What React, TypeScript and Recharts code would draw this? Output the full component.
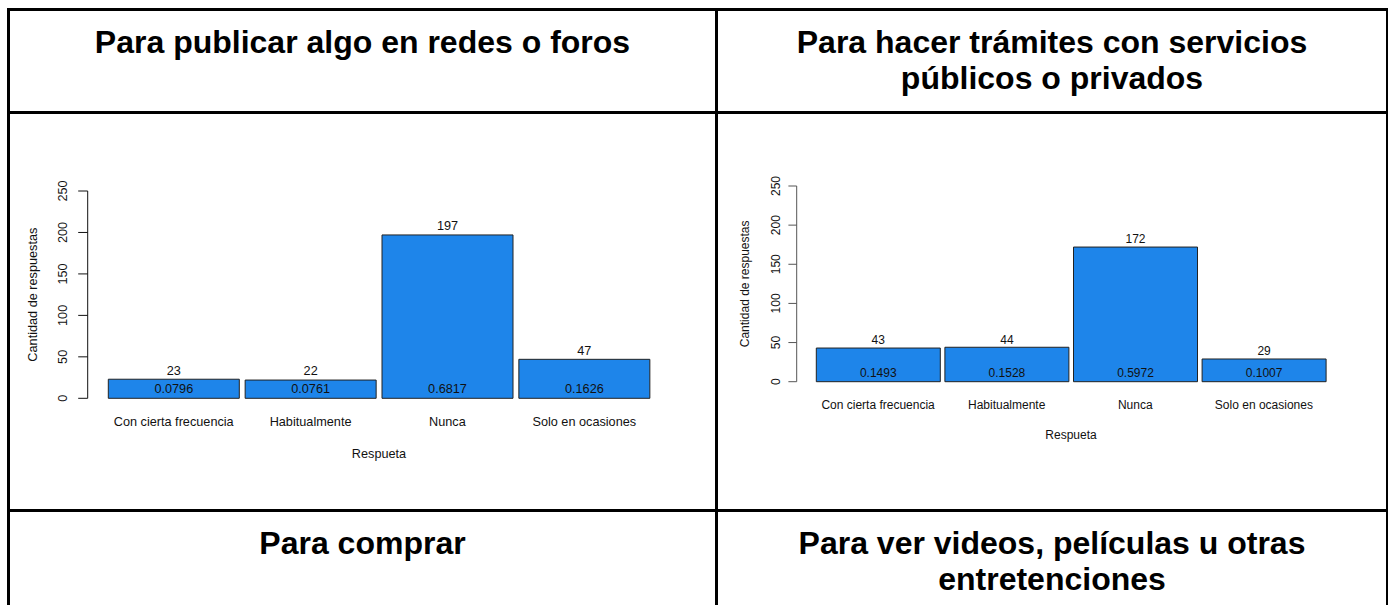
import React from 'react';
import { BarChart, Bar, XAxis, YAxis, LabelList } from 'recharts';

const categories = ['Con cierta frecuencia', 'Habitualmente', 'Nunca', 'Solo en ocasiones'];
const redesCounts = [23, 22, 197, 47];
const redesProps = [0.0796, 0.0761, 0.6817, 0.1626];
const tramitesCounts = [43, 44, 172, 29];
const tramitesProps = [0.1493, 0.1528, 0.5972, 0.1007];
const yTicks = [0, 50, 100, 150, 200, 250];

const FONT = '"Liberation Sans", Arial, Helvetica, sans-serif';
const BAR_FILL = '#1e85ea';
const INK = '#111';

type Geo = {
  left: number; top: number; width: number; height: number;
  axisX: number; plotTop: number; plotBottom: number;
  padLeft: number; marginRight: number; gapHalf: number;
  font: number; tickLen: number; tickLabelOff: number;
  yTitleX: number; catDy: number; titleDy: number;
  axisColor: string; countDy: number; propDy: number;
};

const geoRedes: Geo = {
  left: 10, top: 114, width: 705, height: 395,
  axisX: 77.7, plotTop: 77, plotBottom: 284.3,
  padLeft: 17.6, marginRight: 62.3, gapHalf: 3,
  font: 12.7, tickLen: 9.5, tickLabelOff: 24.7,
  yTitleX: 22.7, catDy: 23.7, titleDy: 56,
  axisColor: '#111', countDy: 8.7, propDy: 9.3,
};

const geoTramites: Geo = {
  left: 718, top: 114, width: 668, height: 395,
  axisX: 78.7, plotTop: 72, plotBottom: 267.7,
  padLeft: 17.1, marginRight: 57.8, gapHalf: 2.5,
  font: 12, tickLen: 8.3, tickLabelOff: 20.7,
  yTitleX: 27, catDy: 23.3, titleDy: 53.3,
  axisColor: '#555', countDy: 7.6, propDy: 9,
};

const boxOf = (p: any) => (p.viewBox && p.viewBox.width != null ? p.viewBox : p);

function CountChart({ g, counts, props }: { g: Geo; counts: number[]; props: number[] }) {
  const data = categories.map((cat, i) => ({ cat, n: counts[i], p: props[i] }));
  const txt = { fontFamily: FONT, fontSize: g.font, fill: INK };
  return (
    <div style={{ position: 'absolute', left: g.left, top: g.top }}>
      <BarChart
        width={g.width}
        height={g.height}
        data={data}
        margin={{ top: g.plotTop, right: g.marginRight, left: 0, bottom: 0 }}
        barCategoryGap={g.gapHalf}
      >
        <XAxis
          dataKey="cat"
          height={g.height - g.plotBottom}
          axisLine={false}
          tickLine={false}
          tickSize={0}
          tickMargin={0}
          interval={0}
          padding={{ left: g.padLeft, right: 0 }}
          tick={(p: any) => (
            <text x={p.x} y={p.y + g.catDy} textAnchor="middle" dominantBaseline="central" style={txt}>
              {p.payload.value}
            </text>
          )}
          label={(p: any) => {
            const vb = p.viewBox || {};
            const cx = vb.x + g.padLeft + (vb.width - g.padLeft) / 2;
            return (
              <text x={cx} y={vb.y + g.titleDy} textAnchor="middle" dominantBaseline="central" style={txt}>
                Respueta
              </text>
            );
          }}
        />
        <YAxis
          width={g.axisX}
          domain={[0, 250]}
          ticks={yTicks}
          interval={0}
          tickSize={g.tickLen}
          tickMargin={0}
          axisLine={{ stroke: g.axisColor, strokeWidth: 1 }}
          tickLine={{ stroke: g.axisColor, strokeWidth: 1 }}
          tick={(p: any) => {
            const tx = p.x - (g.tickLabelOff - g.tickLen);
            return (
              <text x={tx} y={p.y} transform={`rotate(-90, ${tx}, ${p.y})`} textAnchor="middle" dominantBaseline="central" style={txt}>
                {p.payload.value}
              </text>
            );
          }}
          label={(p: any) => {
            const vb = p.viewBox || {};
            const cy = vb.y + vb.height / 2;
            return (
              <text x={g.yTitleX} y={cy} transform={`rotate(-90, ${g.yTitleX}, ${cy})`} textAnchor="middle" dominantBaseline="central" style={txt}>
                Cantidad de respuestas
              </text>
            );
          }}
        />
        <Bar dataKey="n" fill={BAR_FILL} stroke="#222" strokeWidth={1} isAnimationActive={false}>
          <LabelList
            dataKey="n"
            content={(p: any) => {
              const b = boxOf(p);
              return (
                <text x={b.x + b.width / 2} y={b.y - g.countDy} textAnchor="middle" dominantBaseline="central" style={txt}>
                  {p.value}
                </text>
              );
            }}
          />
          <LabelList
            dataKey="p"
            content={(p: any) => {
              const b = boxOf(p);
              return (
                <text x={b.x + b.width / 2} y={b.y + b.height - g.propDy} textAnchor="middle" dominantBaseline="central" style={txt}>
                  {Number(p.value).toFixed(4)}
                </text>
              );
            }}
          />
        </Bar>
      </BarChart>
    </div>
  );
}

const line = (left: number, top: number, width: number, height: number) => (
  <div style={{ position: 'absolute', left, top, width, height, background: '#000' }} />
);

function Title({ left, width, top, lines }: { left: number; width: number; top: number; lines: string[] }) {
  return (
    <div
      style={{
        position: 'absolute', left, top, width, textAlign: 'center',
        fontFamily: FONT, fontWeight: 700, fontSize: 32, lineHeight: '36px', color: '#000',
      }}
    >
      {lines.map((l) => (
        <div key={l}>{l}</div>
      ))}
    </div>
  );
}

export default function App() {
  return (
    <div style={{ position: 'absolute', left: 0, top: 0, width: 1388, height: 605, overflow: 'hidden', background: '#fff' }}>
      <Title left={10} width={705} top={23.5} lines={['Para publicar algo en redes o foros']} />
      <Title left={718} width={668} top={23.5} lines={['Para hacer trámites con servicios', 'públicos o privados']} />
      <Title left={10} width={705} top={524.5} lines={['Para comprar']} />
      <Title left={718} width={668} top={524.5} lines={['Para ver videos, películas u otras', 'entretenciones']} />

      <CountChart g={geoRedes} counts={redesCounts} props={redesProps} />
      <CountChart g={geoTramites} counts={tramitesCounts} props={tramitesProps} />

      {line(7, 8, 1385, 3)}
      {line(7, 111, 1385, 3)}
      {line(7, 509, 1385, 3)}
      {line(7, 8, 3, 600)}
      {line(715, 8, 3, 600)}
      {line(1386, 8, 3, 600)}
    </div>
  );
}
